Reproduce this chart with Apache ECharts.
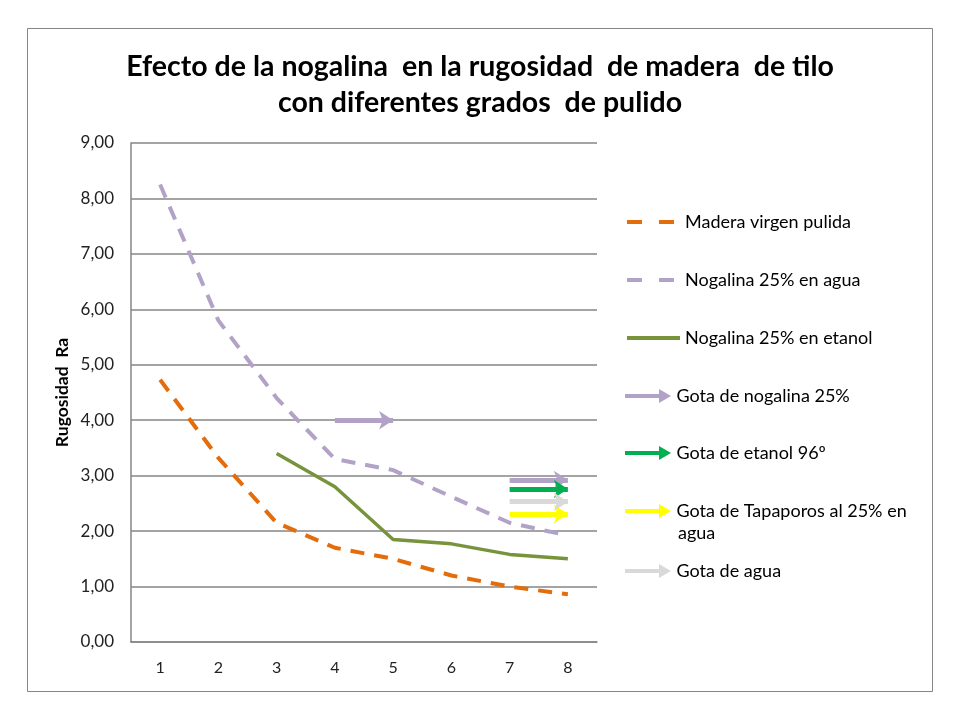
<!DOCTYPE html>
<html><head><meta charset="utf-8">
<script src="https://cdn.jsdelivr.net/npm/echarts@6/dist/echarts.min.js"></script>
<style>html,body{margin:0;padding:0;background:#fff}#c{width:960px;height:720px}</style>
</head><body><div id="c"></div>
<script>
const categories = ['1','2','3','4','5','6','7','8'];
const yTicks = [0,1,2,3,4,5,6,7,8,9];
const maderaVirgen = [4.73, 3.32, 2.15, 1.70, 1.50, 1.20, 1.00, 0.86];
const nogalinaAgua = [8.25, 5.80, 4.40, 3.30, 3.10, 2.62, 2.15, 1.92];
const nogalinaEtanol = [null, null, 3.40, 2.80, 1.85, 1.77, 1.58, 1.50];
// arrows: [fromCategoryIndex, toCategoryIndex, value]
const gotaNogalina = [[3, 4, 4.00], [6, 7, 2.92]];
const gotaEtanol = [[6, 7, 2.76]];
const gotaTapaporos = [[6, 7, 2.31]];
const gotaAgua = [[6, 7, 2.53]];
const names = ['Madera virgen pulida','Nogalina 25% en agua','Nogalina 25% en etanol','Gota de nogalina 25%','Gota de etanol 96º','Gota de Tapaporos al 25% en agua','Gota de agua'];

const FONT = 'Lato';
const LFS = 18;
const arrowIcon = 'path://M0,5 L34,5 L34,0 L46,7 L34,14 L34,9 L0,9 Z';

function arrowSeries(name, arr, color) {
  return {
    name, type: 'line', data: [], symbol: 'none', color,
    lineStyle: {color, width: 6},
    markLine: {
      silent: true, symbol: ['none', 'arrow'], symbolSize: [14, 14],
      lineStyle: {color, width: 5, type: 'solid'}, label: {show: false},
      emphasis: {disabled: true},
      data: arr.map(a => [{coord: [a[0], a[2]]}, {coord: [a[1], a[2]]}])
    }
  };
}

const legendTops = [208, 266, 324, 382, 439, 497, 557];
const legends = names.map((n, i) => {
  const isArrow = i >= 3;
  const l = {
    data: [isArrow ? {name: n, icon: arrowIcon} : {name: n}],
    orient: 'vertical', left: 620, top: legendTops[i],
    itemWidth: isArrow ? 47 : 53, itemHeight: 14, itemGap: 0,
    selectedMode: false,
    textStyle: {fontFamily: FONT, fontSize: LFS, color: '#000', lineHeight: 18}
  };
  if (!isArrow) {
    l.itemStyle = {opacity: 0};
    l.lineStyle = {width: 4, type: i < 2 ? [15, 17] : 'solid'};
  }
  if (i === 5) l.formatter = () => 'Gota de Tapaporos al 25% en';
  return l;
});

const chart = echarts.init(document.getElementById('c'), null, {renderer: 'canvas'});
chart.setOption({
  animation: false,
  backgroundColor: '#fff',
  title: {
    text: 'Efecto de la nogalina  en la rugosidad  de madera  de tilo\ncon diferentes grados  de pulido',
    left: 'center', top: 44,
    textStyle: {fontFamily: FONT, fontWeight: 'bold', fontSize: 28.5, color: '#000', lineHeight: 36}
  },
  graphic: [
    {type: 'rect', shape: {x: 27.5, y: 28.5, width: 905, height: 663}, style: {fill: 'none', stroke: '#868686', lineWidth: 1}, silent: true},
    {type: 'text', left: 678, top: 524, style: {text: 'agua', font: LFS + 'px ' + FONT, fill: '#000'}, silent: true}
  ],
  legend: legends,
  grid: {left: 131, right: 363, top: 143, bottom: 78, containLabel: false},
  xAxis: {
    type: 'category', data: categories, boundaryGap: true,
    axisLine: {lineStyle: {color: '#868686', width: 1.5}},
    axisTick: {show: false},
    axisLabel: {fontFamily: FONT, fontSize: 16, color: '#222', margin: 18}
  },
  yAxis: {
    type: 'value', min: yTicks[0], max: yTicks[yTicks.length - 1], interval: 1,
    name: 'Rugosidad  Ra', nameLocation: 'middle', nameGap: 60, nameRotate: 90,
    nameTextStyle: {fontFamily: FONT, fontWeight: 'bold', fontSize: 17.5, color: '#000'},
    axisLine: {show: true, lineStyle: {color: '#868686', width: 1.5}},
    axisTick: {show: false},
    splitLine: {lineStyle: {color: '#868686', width: 1.5}},
    axisLabel: {fontFamily: FONT, fontSize: 17, color: '#222', margin: 17, formatter: v => v.toFixed(2).replace('.', ',')}
  },
  series: [
    {name: names[0], type: 'line', data: maderaVirgen, symbol: 'none', color: '#E46C0A',
     lineStyle: {color: '#E46C0A', width: 4, type: [14, 10]}},
    {name: names[1], type: 'line', data: nogalinaAgua, symbol: 'none', color: '#B3A2C7',
     lineStyle: {color: '#B3A2C7', width: 4, type: [14, 10]}},
    {name: names[2], type: 'line', data: nogalinaEtanol, symbol: 'none', color: '#77933C',
     lineStyle: {color: '#77933C', width: 3.5}},
    arrowSeries(names[3], gotaNogalina, '#B3A2C7'),
    arrowSeries(names[4], gotaEtanol, '#00B050'),
    arrowSeries(names[5], gotaTapaporos, '#FFFF00'),
    arrowSeries(names[6], gotaAgua, '#D9D9D9')
  ]
});
</script></body></html>
